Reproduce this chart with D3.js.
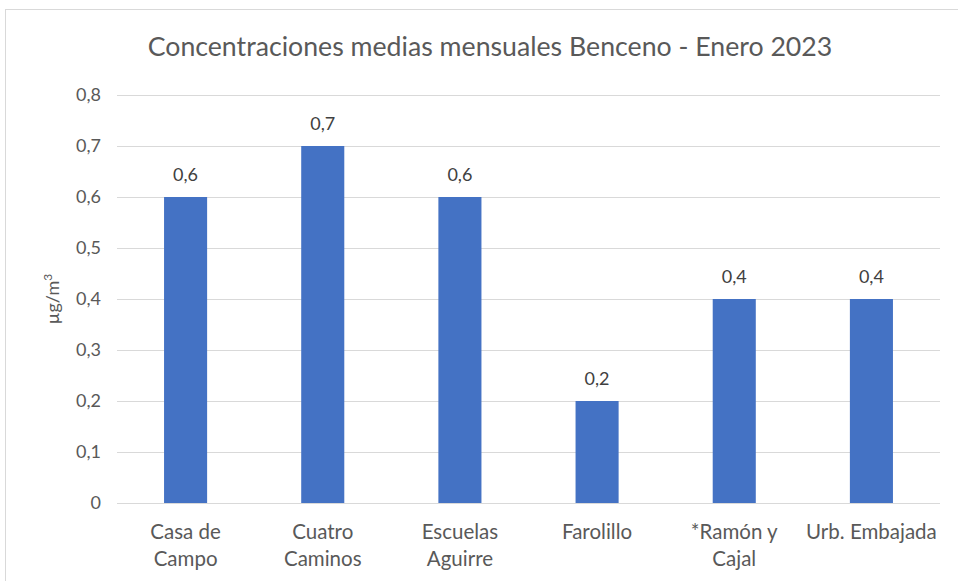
<!DOCTYPE html>
<html>
<head>
<meta charset="utf-8">
<script src="https://cdn.jsdelivr.net/npm/d3@7"></script>
<style>
  body { margin: 0; background: #fff; }
  svg { display: block; font-family: Lato, "Open Sans", sans-serif; }
</style>
</head>
<body>
<svg id="chart"></svg>
<script>
const stations = [['Casa de', 'Campo'], ['Cuatro', 'Caminos'], ['Escuelas', 'Aguirre'], ['Farolillo'], ['*Ramón y', 'Cajal'], ['Urb. Embajada']];
const values = [0.6, 0.7, 0.6, 0.2, 0.4, 0.4];
const yTicks = [0, 0.1, 0.2, 0.3, 0.4, 0.5, 0.6, 0.7, 0.8];

const width = 958, height = 581;
const margin = {top: 95, right: 18, bottom: 78, left: 117};
const fmt = v => d3.format('.1f')(v).replace('.', ',');

const svg = d3.select('#chart')
    .attr('width', width)
    .attr('height', height);

// chart frame
svg.append('rect')
    .attr('x', 5.5).attr('y', 9.5)
    .attr('width', 1000).attr('height', 600)
    .attr('fill', 'none')
    .attr('stroke', '#d9d9d9');

const x = d3.scaleBand()
    .domain(d3.range(stations.length))
    .range([margin.left, width - margin.right])
    .paddingInner(0.686)
    .paddingOuter(0.343);

const y = d3.scaleLinear()
    .domain([0, 0.8])
    .range([height - margin.bottom, margin.top]);

svg.append('g')
    .attr('stroke', '#d9d9d9')
  .selectAll('line')
  .data(yTicks)
  .join('line')
    .attr('x1', margin.left)
    .attr('x2', width - margin.right)
    .attr('y1', d => Math.round(y(d)) + 0.5)
    .attr('y2', d => Math.round(y(d)) + 0.5);

svg.append('g')
    .attr('fill', '#595959')
    .attr('font-size', 18)
    .attr('text-anchor', 'end')
  .selectAll('text')
  .data(yTicks)
  .join('text')
    .attr('x', margin.left - 16)
    .attr('y', d => y(d))
    .attr('dy', '0.35em')
    .text(d => d === 0 ? '0' : fmt(d));

svg.append('g')
    .attr('fill', '#4472c4')
  .selectAll('rect')
  .data(values)
  .join('rect')
    .attr('x', (d, i) => x(i))
    .attr('y', d => y(d))
    .attr('width', x.bandwidth())
    .attr('height', d => y(0) - y(d));

svg.append('g')
    .attr('fill', '#404040')
    .attr('font-size', 18)
    .attr('text-anchor', 'middle')
  .selectAll('text')
  .data(values)
  .join('text')
    .attr('x', (d, i) => x(i) + x.bandwidth() / 2)
    .attr('y', d => y(d) - 16)
    .text(d => fmt(d));

svg.append('g')
    .attr('fill', '#595959')
    .attr('font-size', 20.5)
    .attr('text-anchor', 'middle')
  .selectAll('text')
  .data(stations)
  .join('text')
    .attr('x', (d, i) => x(i) + x.bandwidth() / 2)
    .attr('y', 539)
  .selectAll('tspan')
  .data(d => d)
  .join('tspan')
    .attr('x', function() { return this.parentNode.getAttribute('x'); })
    .attr('dy', (d, i) => i ? 27 : 0)
    .text(d => d);

const yl = svg.append('text')
    .attr('transform', `translate(59,${(y(0) + y(0.8)) / 2}) rotate(-90)`)
    .attr('text-anchor', 'middle')
    .attr('fill', '#595959')
    .attr('font-size', 18);
yl.append('tspan').text('µg/m');
yl.append('tspan').attr('dy', -7).attr('font-size', 12).text('3');

svg.append('text')
    .attr('x', 490)
    .attr('y', 56)
    .attr('text-anchor', 'middle')
    .attr('fill', '#595959')
    .attr('font-size', 26.7)
    .text('Concentraciones medias mensuales Benceno - Enero 2023');
</script>
</body>
</html>
